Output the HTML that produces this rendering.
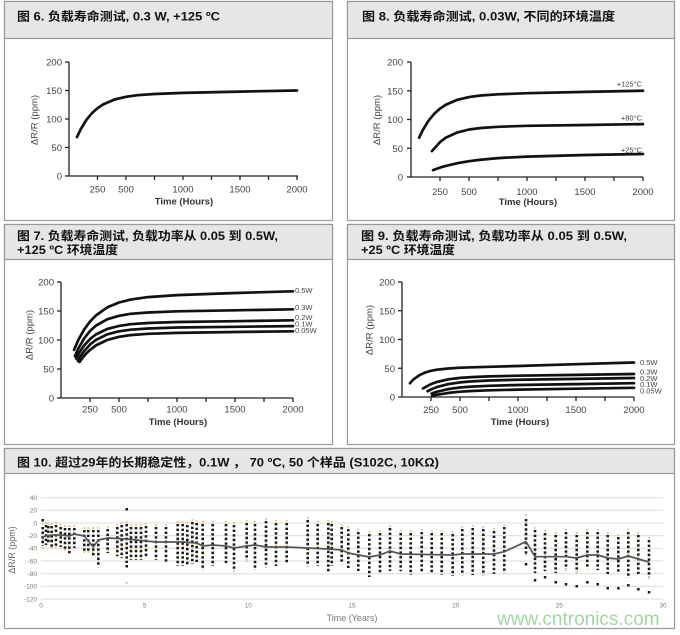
<!DOCTYPE html>
<html><head><meta charset="utf-8">
<style>
html,body{margin:0;padding:0;background:#fff;}
body{width:680px;height:635px;overflow:hidden;}
svg{display:block;}
.t{font-family:"Liberation Sans","Noto Sans CJK SC",sans-serif;font-weight:bold;font-size:12px;fill:#111;}
.tk{font-family:"Liberation Sans",sans-serif;font-size:9.5px;fill:#444;}
.ax{font-family:"Liberation Sans",sans-serif;font-size:9.5px;font-weight:bold;fill:#333;}
.yl{font-family:"Liberation Sans",sans-serif;font-size:9.5px;fill:#444;}
.lb{font-family:"Liberation Sans",sans-serif;font-size:7.5px;fill:#444;}
.st{fill:none;stroke:#111;stroke-width:2.7;stroke-linejoin:round;stroke-linecap:round;}
.axl{fill:none;stroke:#222;stroke-width:1.3;}
.sk{font-family:"Liberation Sans",sans-serif;font-size:6.5px;fill:#777;}
</style></head>
<body>
<svg width="680" height="635" viewBox="0 0 680 635" xmlns="http://www.w3.org/2000/svg">
<!-- Panel frames -->
<g fill="#fff" stroke="#999" stroke-width="1.2">
<rect x="4.5" y="1.5" width="328" height="219"/>
<rect x="347.5" y="1.5" width="327" height="219"/>
<rect x="4.5" y="224.5" width="328" height="220"/>
<rect x="347.5" y="224.5" width="327" height="220"/>
<rect x="4.5" y="448.5" width="670" height="180"/>
</g>
<g fill="#e6e6e6" stroke="#999" stroke-width="1.2">
<rect x="4.5" y="1.5" width="328" height="37"/>
<rect x="347.5" y="1.5" width="327" height="37"/>
<rect x="4.5" y="224.5" width="328" height="35"/>
<rect x="347.5" y="224.5" width="327" height="35"/>
<rect x="4.5" y="448.5" width="670" height="25"/>
</g>
<!-- Titles -->
<text class="t" x="17" y="20.5" textLength="203" lengthAdjust="spacingAndGlyphs">图 6. 负载寿命测试, 0.3 W, +125 ºC</text>
<text class="t" x="362" y="20.5" textLength="253" lengthAdjust="spacingAndGlyphs">图 8.  负载寿命测试, 0.03W, 不同的环境温度</text>
<text class="t" x="17" y="240" textLength="261" lengthAdjust="spacingAndGlyphs">图 7. 负载寿命测试, 负载功率从 0.05 到 0.5W,</text>
<text class="t" x="17" y="254" textLength="101" lengthAdjust="spacingAndGlyphs">+125 ºC 环境温度</text>
<text class="t" x="361" y="240" textLength="266" lengthAdjust="spacingAndGlyphs">图 9.  负载寿命测试, 负载功率从 0.05 到 0.5W,</text>
<text class="t" x="361" y="254" textLength="94" lengthAdjust="spacingAndGlyphs">+25 ºC 环境温度</text>
<text class="t" x="17" y="466.5" textLength="422" lengthAdjust="spacingAndGlyphs">图 10. 超过29年的长期稳定性，0.1W ， 70 ºC, 50 个样品 (S102C, 10KΩ)</text>

<!-- ============ Panel 1 ============ -->
<path class="axl" d="M69,62V176H298M65,62H69M65,90.5H69M65,119H69M65,147.5H69M65,176H69M97.5,176v4M126,176v4M154.5,176v4M183,176v4M211.5,176v4M240,176v4M268.5,176v4M297,176v4"/>
<g class="tk" text-anchor="end">
<text x="62" y="65.5">200</text><text x="62" y="94">150</text><text x="62" y="122.5">100</text><text x="62" y="151">50</text><text x="62" y="179.5">0</text>
</g>
<g class="tk" text-anchor="middle">
<text x="97.5" y="192.5">250</text><text x="126" y="192.5">500</text><text x="183" y="192.5">1000</text><text x="240" y="192.5">1500</text><text x="297" y="192.5">2000</text>
</g>
<text class="ax" x="184" y="204.5" text-anchor="middle">Time (Hours)</text>
<text class="yl" transform="translate(37.5,120) rotate(-90)" text-anchor="middle">ΔR/R (ppm)</text>
<polyline class="st" points="77,137.1 80.4,129.8 86.1,120.3 91.8,113.3 97.5,108.2 103.2,104.4 114.6,99.5 126,96.8 137.4,95.2 154.5,94 183,92.9 240,91.6 297,90.5"/>

<!-- ============ Panel 2 ============ -->
<path class="axl" d="M411,62V177H643M407,62H411M407,90.75H411M407,119.5H411M407,148.25H411M407,177H411M440,177v4M469,177v4M498,177v4M527,177v4M556,177v4M585,177v4M614,177v4M643,177v4"/>
<g class="tk" text-anchor="end">
<text x="403" y="65.5">200</text><text x="403" y="94.25">150</text><text x="403" y="123">100</text><text x="403" y="151.75">50</text><text x="403" y="180.5">0</text>
</g>
<g class="tk" text-anchor="middle">
<text x="440" y="195">250</text><text x="469" y="195">500</text><text x="527" y="195">1000</text><text x="585" y="195">1500</text><text x="643" y="195">2000</text>
</g>
<text class="ax" x="528" y="205" text-anchor="middle">Time (Hours)</text>
<text class="yl" transform="translate(380,120) rotate(-90)" text-anchor="middle">ΔR/R (ppm)</text>
<polyline class="st" points="419.1,137.7 422.6,130.4 428.4,120.8 434.2,113.8 440,108.6 445.8,104.8 457.4,99.8 469,97.1 480.6,95.5 498,94.3 527,93.2 585,91.9 643,90.75"/>
<polyline class="st" points="431.9,151.1 440,142.1 445.8,137.7 457.4,132.4 469,129.5 480.6,128 498,126.8 527,125.8 585,125 643,124.1"/>
<polyline class="st" points="433,170.1 440,167.6 445.8,165.9 457.4,163.2 469,161.2 480.6,159.75 498,158.1 527,156.6 585,155 643,154"/>
<g class="lb" text-anchor="end" font-size="7">
<text x="642" y="86.5">+125°C</text><text x="642" y="120.5">+80°C</text><text x="642" y="152.5">+25°C</text>
</g>

<!-- ============ Panel 3 ============ -->
<path class="axl" d="M61,282V398H293M57,282H61M57,311H61M57,340H61M57,369H61M57,398H61M90,398v4M119,398v4M148,398v4M177,398v4M206,398v4M235,398v4M264,398v4M293,398v4"/>
<g class="tk" text-anchor="end">
<text x="54" y="285.5">200</text><text x="54" y="314.5">150</text><text x="54" y="343.5">100</text><text x="54" y="372.5">50</text><text x="54" y="401.5">0</text>
</g>
<g class="tk" text-anchor="middle">
<text x="90" y="412.5">250</text><text x="119" y="412.5">500</text><text x="177" y="412.5">1000</text><text x="235" y="412.5">1500</text><text x="293" y="412.5">2000</text>
</g>
<text class="ax" x="178" y="425" text-anchor="middle">Time (Hours)</text>
<text class="yl" transform="translate(32.5,335) rotate(-90)" text-anchor="middle">ΔR/R (ppm)</text>
<polyline class="st" points="74,349.9 78.4,339.8 84.2,329.4 90,321.6 95.8,315.5 107.4,307.3 119,302.5 130.6,299.6 148,297.1 177,295.1 235,293 293,291.3"/>
<polyline class="st" points="74.9,356.2 78.4,348.4 84.2,338.3 90,331 95.8,325.7 107.4,319.2 119,315.8 130.6,313.8 148,312.5 177,311.3 235,310.3 293,309.3"/>
<polyline class="st" points="76.1,358.6 79.6,352.1 84.2,345.4 90,339.1 95.8,334.5 107.4,328.9 119,325.9 130.6,324.2 148,323 177,322 235,321.2 293,320.3"/>
<polyline class="st" points="77.8,360.9 81.3,355 84.2,351 90,344.6 95.8,340 107.4,334.3 119,331.3 130.6,329.7 148,328.5 177,327.5 235,326.8 293,326.1"/>
<polyline class="st" points="79.6,362 83,357.2 86.5,353.2 90,349.9 95.8,345.5 107.4,339.9 119,336.8 130.6,335.1 148,333.8 177,332.9 235,332 293,331.3"/>
<g class="lb">
<text x="295" y="293">0.5W</text><text x="295" y="310">0.3W</text><text x="295" y="320">0.2W</text><text x="295" y="326.5">0.1W</text><text x="295" y="333">0.05W</text>
</g>

<!-- ============ Panel 4 ============ -->
<path class="axl" d="M402,282V397H634M398,282H402M398,310.75H402M398,339.5H402M398,368.25H402M398,397H402M431,397v4M460,397v4M489,397v4M518,397v4M547,397v4M576,397v4M605,397v4M634,397v4"/>
<g class="tk" text-anchor="end">
<text x="395" y="285.5">200</text><text x="395" y="314.25">150</text><text x="395" y="343">100</text><text x="395" y="371.75">50</text><text x="395" y="400.5">0</text>
</g>
<g class="tk" text-anchor="middle">
<text x="431" y="413">250</text><text x="460" y="413">500</text><text x="518" y="413">1000</text><text x="576" y="413">1500</text><text x="634" y="413">2000</text>
</g>
<text class="ax" x="520" y="425" text-anchor="middle">Time (Hours)</text>
<text class="yl" transform="translate(372.5,330) rotate(-90)" text-anchor="middle">ΔR/R (ppm)</text>
<polyline class="st" points="410,383.2 413.6,379.3 419.4,375.2 425.2,372.5 431,370.8 436.8,369.7 448.4,368.5 460,367.7 489,366.8 518,366 576,364.2 634,362.5"/>
<polyline class="st" points="422.9,388.4 431,384.1 436.8,382 448.4,379.3 460,377.9 471.6,377.1 489,376.4 518,375.7 576,374.9 634,374"/>
<polyline class="st" points="427.5,391.25 431,389.5 436.8,387.1 448.4,384.1 460,382.4 471.6,381.4 489,380.5 518,379.75 576,378.9 634,378"/>
<polyline class="st" points="431.6,393.5 436.8,391.8 448.4,389.1 460,387.5 471.6,386.6 489,385.8 518,385 576,384.1 634,383.2"/>
<polyline class="st" points="432.2,395.85 436.8,394.8 448.4,392.9 460,391.7 471.6,391 489,390.3 518,389.6 576,388.7 634,387.8"/>
<g class="lb">
<text x="640" y="365">0.5W</text><text x="640" y="374.5">0.3W</text><text x="640" y="381">0.2W</text><text x="640" y="387">0.1W</text><text x="640" y="393.5">0.05W</text>
</g>

<!-- ============ Panel 5 ============ -->
<g stroke="#dcdcdc" stroke-width="1">
<path d="M41,497.7H663M41,510.3H663M41,523H663M41,535.7H663M41,548.3H663M41,561H663M41,573.7H663M41,586.3H663M41,599H663"/>
</g>
<g class="sk" text-anchor="end">
<text x="37" y="500">40</text><text x="37" y="512.6">20</text><text x="37" y="525.3">0</text><text x="37" y="538">-20</text><text x="37" y="550.6">-40</text><text x="37" y="563.3">-60</text><text x="37" y="576">-80</text><text x="37" y="588.6">-100</text><text x="37" y="601.3">-120</text>
</g>
<g class="sk" text-anchor="middle">
<text x="41" y="607.5">0</text><text x="144.7" y="607.5">5</text><text x="248.3" y="607.5">10</text><text x="352" y="607.5">15</text><text x="455.7" y="607.5">20</text><text x="559.3" y="607.5">25</text><text x="663" y="607.5">30</text>
</g>
<text x="352" y="621" text-anchor="middle" font-family="Liberation Sans, sans-serif" font-size="9" fill="#777">Time (Years)</text>
<text transform="translate(15,550) rotate(-90)" text-anchor="middle" font-family="Liberation Sans, sans-serif" font-size="9" fill="#666">ΔR/R (ppm)</text>

<!-- orange dots -->
<path fill="none" stroke="#e3b873" stroke-width="2" stroke-dasharray="2 6" opacity="0.7" d="M42.7,523V549M46,522V547M48.3,523V546M51.7,523V550M56,522V549M60.7,524V549M65,525V552M69.3,525V557M74.3,525V550M84.3,527V553M88.3,527V554M93.3,527V558M98.3,527V568M107.7,526V555M117.3,524V558M121.7,522V560M126.7,521V565M131,524V562M136,524V562M141,524V562M146,523V559M156,524V562M166,524V564M177.7,521V568M182.7,521V568M187.3,522V568M192.3,519V566M196.7,520V564M202.7,521V570M212.7,521V568M226,521V565M234,522V573M246.7,520V562M255,521V570M266,518V569M276,520V568M286.7,520V565M307.7,517V567M317.7,521V568M328.3,520V575M331.7,521V568M341.7,524V565M348.3,526V570M358.3,529V573M369.3,531V579M380,530V575M390,525V573M400.7,530V573M410.7,530V577M421.7,529V575M431.7,530V576M441.7,530V577M452.7,531V578M462.3,526V576M472.7,525V577M483.3,526V576M494,528V576M504.3,524V575M526,514V557M535,527V575M545,530V573M555.7,532V575M566,529V571M576.7,532V574M587.3,529V570M597.7,529V572M607.7,532V576M618.3,534V574M628.3,529V578M638.3,532V576M649,537V579"/>
<!-- black dots -->
<path fill="none" stroke="#1a1a1a" stroke-width="2.6" stroke-dasharray="2.4 2.2" d="M42.7,527V546M46,525V545M48.3,526V544M51.7,526V548M56,525V547M60.7,527V547M65,528V550M69.3,528V555M74.3,528V548M84.3,530V551M88.3,530V552M93.3,530V556M98.3,530V566M107.7,529V553M117.3,527V556M121.7,525V558M126.7,524V563M131,527V560M136,527V560M141,527V560M146,526V557M156,527V560M166,527V562M177.7,524V566M182.7,524V566M187.3,525V566M192.3,522V564M196.7,523V562M202.7,524V568M212.7,524V566M226,524V563M234,525V571M246.7,523V560M255,524V568M266,521V567M276,523V566M286.7,523V563M307.7,520V565M317.7,524V566M328.3,523V573M331.7,524V566M341.7,527V563M348.3,529V568M358.3,532V571M369.3,534V577M380,533V573M390,528V571M400.7,533V571M410.7,533V575M421.7,532V573M431.7,533V574M441.7,533V575M452.7,534V576M462.3,529V574M472.7,528V575M483.3,529V574M494,531V574M504.3,527V573M526,519V555M535,530V573M545,533V571M555.7,535V573M566,532V569M576.7,535V572M587.3,532V568M597.7,532V570M607.7,535V574M618.3,537V572M628.3,532V576M638.3,535V574M649,540V577"/>
<!-- outliers -->
<g fill="#1a1a1a">
<rect x="41.5" y="519" width="2.5" height="2.5"/>
<rect x="125.5" y="508" width="2.5" height="2.5"/>
<rect x="125.5" y="565" width="2.5" height="2.5"/>
<rect x="524.8" y="563" width="2.5" height="2.5"/>
<rect x="533.8" y="579" width="2.5" height="2.5"/>
<rect x="543.8" y="576" width="2.5" height="2.5"/>
<rect x="554.5" y="581" width="2.5" height="2.5"/>
<rect x="564.8" y="583" width="2.5" height="2.5"/>
<rect x="575.5" y="585" width="2.5" height="2.5"/>
<rect x="586.1" y="581" width="2.5" height="2.5"/>
<rect x="596.5" y="583" width="2.5" height="2.5"/>
<rect x="606.5" y="587" width="2.5" height="2.5"/>
<rect x="617.1" y="587" width="2.5" height="2.5"/>
<rect x="627.1" y="584" width="2.5" height="2.5"/>
<rect x="637.1" y="588" width="2.5" height="2.5"/>
<rect x="647.8" y="591" width="2.5" height="2.5"/>
</g>
<rect x="125.8" y="582" width="1.6" height="1.6" fill="#c9a060"/>
<!-- mean line -->
<polyline fill="none" stroke="#555" stroke-width="1.7" stroke-linejoin="round" points="42.7,537 46,536 51.7,535 60.7,535 69.3,536 74.3,534 84.3,536 93.3,547 98.3,540 107.7,538 126.7,539 146,541 156,542 166,542 182.7,542 196.7,543 202.7,546 212.7,545 226,546 234,548 246.7,546 255,545 266,547 286.7,547 307.7,548 328.3,549 341.7,550 348.3,553 358.3,555 369.3,557 380,555 390,551 400.7,554 452.7,555 462.3,554 494,554 504.3,551.7 526,541.7 535,556.7 566,556.7 576.7,558 587.3,555 597.7,555 607.7,558 618.3,559 628.3,556 638.3,559 649,562"/>
<text x="497" y="625" font-family="Liberation Sans, sans-serif" font-size="19" fill="#a3d6a3">www.cntronics.com</text>
</svg>
</body></html>
